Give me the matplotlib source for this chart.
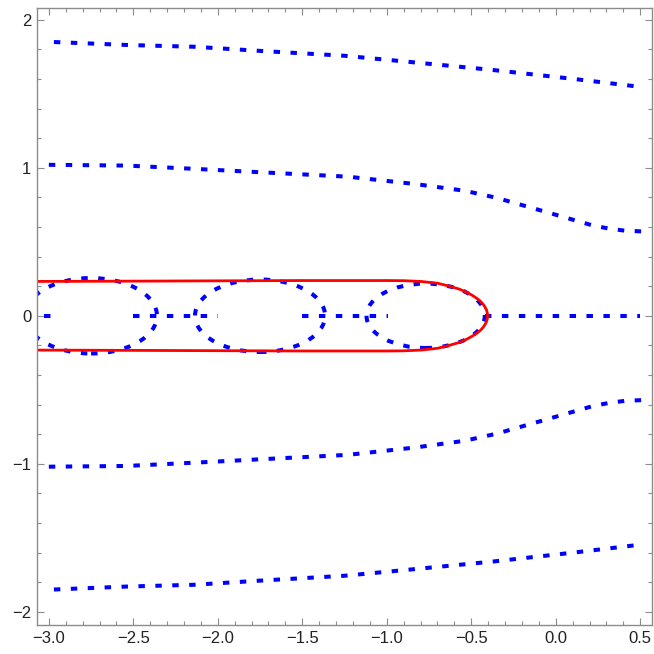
import matplotlib
matplotlib.use("Agg")
import matplotlib.pyplot as plt
from matplotlib.patches import Ellipse
from matplotlib.ticker import MultipleLocator, FuncFormatter

# ---- data ----
top_x = [-2.97, -2.54, -2.14, -1.75, -1.25, -0.87, -0.38, 0.11, 0.50]
top_y = [1.85, 1.83, 1.818, 1.79, 1.757, 1.716, 1.662, 1.60, 1.547]

mid_x = [-3.0, -2.54, -2.14, -1.75, -1.23, -0.83, -0.54, -0.35, -0.053, 0.22, 0.32, 0.41, 0.51]
mid_y = [1.02, 1.015, 0.993, 0.97, 0.94, 0.89, 0.845, 0.797, 0.70, 0.61, 0.588, 0.575, 0.57]

zero_segments = [(-3.03, -2.97), (-2.5, -2.0), (-1.5, -0.99), (-0.42, 0.5)]

ell_cx = [-2.75, -1.75, -0.77]
ell_w = [0.78, 0.77, 0.70]
ell_h = [0.51, 0.49, 0.435]

red_x = [-3.1, -2.5, -2.0, -1.5, -1.0, -0.9, -0.8, -0.70, -0.63, -0.57, -0.53,
         -0.497, -0.47, -0.447, -0.431, -0.419, -0.410, -0.405, -0.403]
red_y = [0.232, 0.234, 0.236, 0.238, 0.238, 0.237, 0.232, 0.22, 0.20, 0.18, 0.16,
         0.14, 0.12, 0.10, 0.08, 0.06, 0.04, 0.02, 0.0]

xticks = [-3.0, -2.5, -2.0, -1.5, -1.0, -0.5, 0.0, 0.5]
yticks = [-2, -1, 0, 1, 2]

# ---- figure ----
fig = plt.figure(figsize=(6.54, 6.54), dpi=100)
ax = fig.add_axes([0.0566, 0.0443, 0.9404, 0.9435])

blue = (0, 0, 1)
dot = dict(color=blue, lw=2.9, ls=(0, (1.6, 2.6)), dash_capstyle='butt', solid_capstyle='butt')

for xs, ys in [(top_x, top_y), (mid_x, mid_y)]:
    ax.plot(xs, ys, **dot)
    ax.plot(xs, [-v for v in ys], **dot)

for a, b in zero_segments:
    ax.plot([a, b], [0, 0], **dot)

for cx, w, h in zip(ell_cx, ell_w, ell_h):
    e = Ellipse((cx, 0), w, h, fill=False, edgecolor=blue, lw=2.9,
                ls=(0, (1.6, 2.6)))
    ax.add_patch(e)

rx = red_x + red_x[::-1][1:]
ry = red_y + [-v for v in red_y[::-1][1:]]
ax.plot(rx, ry, color=(1, 0, 0), lw=2.0, solid_joinstyle='round')

ax.set_xlim(-3.07, 0.57)
ax.set_ylim(-2.09, 2.08)

ax.xaxis.set_minor_locator(MultipleLocator(0.1))
ax.yaxis.set_minor_locator(MultipleLocator(0.2))
ax.set_xticks(xticks)
ax.set_yticks(yticks)
ax.xaxis.set_major_formatter(FuncFormatter(lambda v, p: ('%.1f' % v).replace('-', '\u2212')))
ax.yaxis.set_major_formatter(FuncFormatter(lambda v, p: ('%d' % round(v)).replace('-', '\u2212')))

gray = '#8c8c8c'
for s in ax.spines.values():
    s.set_color(gray)
    s.set_linewidth(1.0)
ax.tick_params(which='both', direction='in', top=True, right=True, color=gray,
               labelsize=12, labelcolor='#222222', width=0.8)
ax.tick_params(which='major', length=5, pad=4)
ax.tick_params(which='minor', length=2.8)
for lab in ax.get_xticklabels() + ax.get_yticklabels():
    lab.set_family(['Liberation Sans', 'DejaVu Sans'])

fig.savefig('out.png', dpi=100)
